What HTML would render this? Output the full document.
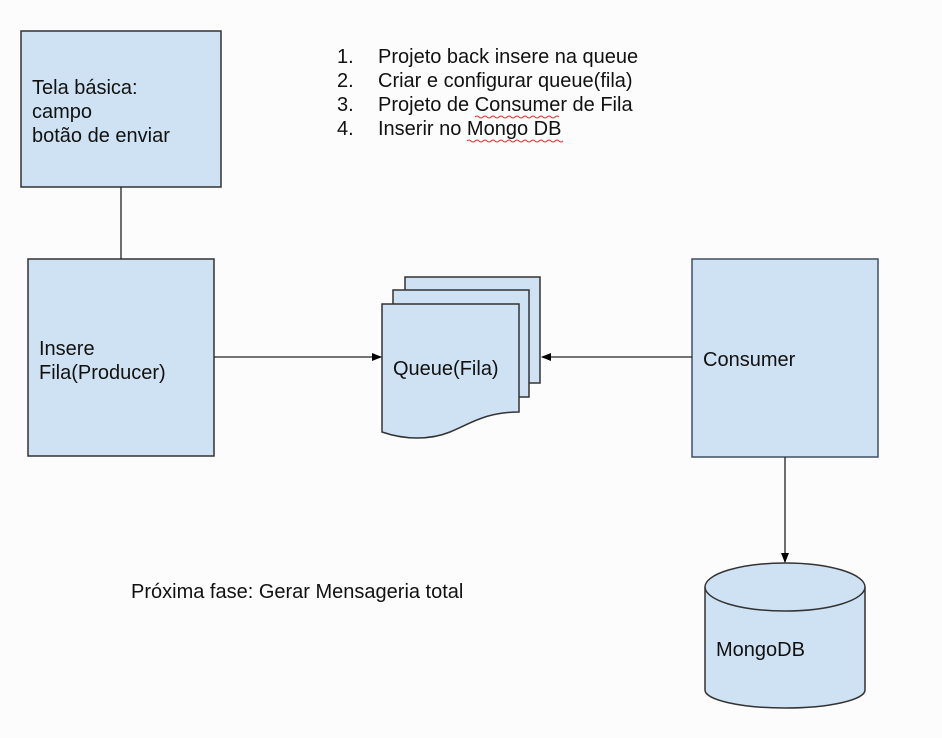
<!DOCTYPE html>
<html><head><meta charset="utf-8"><style>
html,body{margin:0;padding:0;background:#fff;}
svg{display:block;font-family:"Liberation Sans",Arial,sans-serif;}
</style></head><body>
<svg width="942" height="738" viewBox="0 0 942 738" xmlns="http://www.w3.org/2000/svg">
<defs>
<marker id="ah" markerWidth="10" markerHeight="10" refX="9" refY="5" orient="auto" markerUnits="userSpaceOnUse">
<path d="M0,1 L10,5 L0,9 Z" fill="#000"/>
</marker>
</defs>
<rect width="942" height="738" fill="#fcfcfc"/>
<g fill="#cfe2f3" stroke="#333" stroke-width="1.5">
<rect x="21" y="31" width="200" height="156"/>
<rect x="28" y="259" width="186" height="197"/>
<rect x="692" y="259" width="186" height="198" stroke="#405060"/>
<rect x="405" y="277" width="135" height="106"/>
<rect x="393" y="290" width="136" height="107"/>
<path d="M382,304 L519,304 L519,412 C485,412 470,424 450,432 C430,440 405,440 382,432 Z"/>
<path d="M705,587 L705,690 A80,18 0 0 0 865,690 L865,587"/>
<ellipse cx="785" cy="587" rx="80" ry="24"/>
</g>
<g stroke="#222" stroke-width="1.3" fill="none">
<line x1="121" y1="187" x2="121" y2="259"/>
<line x1="214" y1="357" x2="381" y2="357" marker-end="url(#ah)"/>
<line x1="692" y1="357" x2="542" y2="357" marker-end="url(#ah)"/>
<line x1="785" y1="457" x2="785" y2="562" marker-end="url(#ah)"/>
</g>
<g font-size="20" fill="#111">
<text x="32" y="94">Tela básica:</text>
<text x="32" y="118">campo</text>
<text x="32" y="142">botão de enviar</text>
<text x="39" y="355">Insere</text>
<text x="39" y="379">Fila(Producer)</text>
<text x="393" y="375">Queue(Fila)</text>
<text x="703" y="366">Consumer</text>
<text x="716" y="656">MongoDB</text>
<text x="131" y="598">Próxima fase: Gerar Mensageria total</text>
<text x="337" y="63">1.</text><text x="378" y="63">Projeto back insere na queue</text>
<text x="337" y="87">2.</text><text x="378" y="87">Criar e configurar queue(fila)</text>
<text x="337" y="111">3.</text><text x="378" y="111">Projeto de Consumer de Fila</text>
<text x="337" y="135">4.</text><text x="378" y="135">Inserir no Mongo DB</text>
</g>
<g stroke="#e03030" stroke-width="1" fill="none">
<path d="M475,117 q2,-2 4,0 t4,0 t4,0 t4,0 t4,0 t4,0 t4,0 t4,0 t4,0 t4,0 t4,0 t4,0 t4,0 t4,0 t4,0 t4,0 t4,0 t4,0 t4,0 t4,0 t4,0"/>
<path d="M467,141 q2,-2 4,0 t4,0 t4,0 t4,0 t4,0 t4,0 t4,0 t4,0 t4,0 t4,0 t4,0 t4,0 t4,0 t4,0 t4,0 t4,0 t4,0 t4,0 t4,0 t4,0 t4,0 t4,0 t4,0 t4,0"/>
</g>
</svg>
</body></html>
